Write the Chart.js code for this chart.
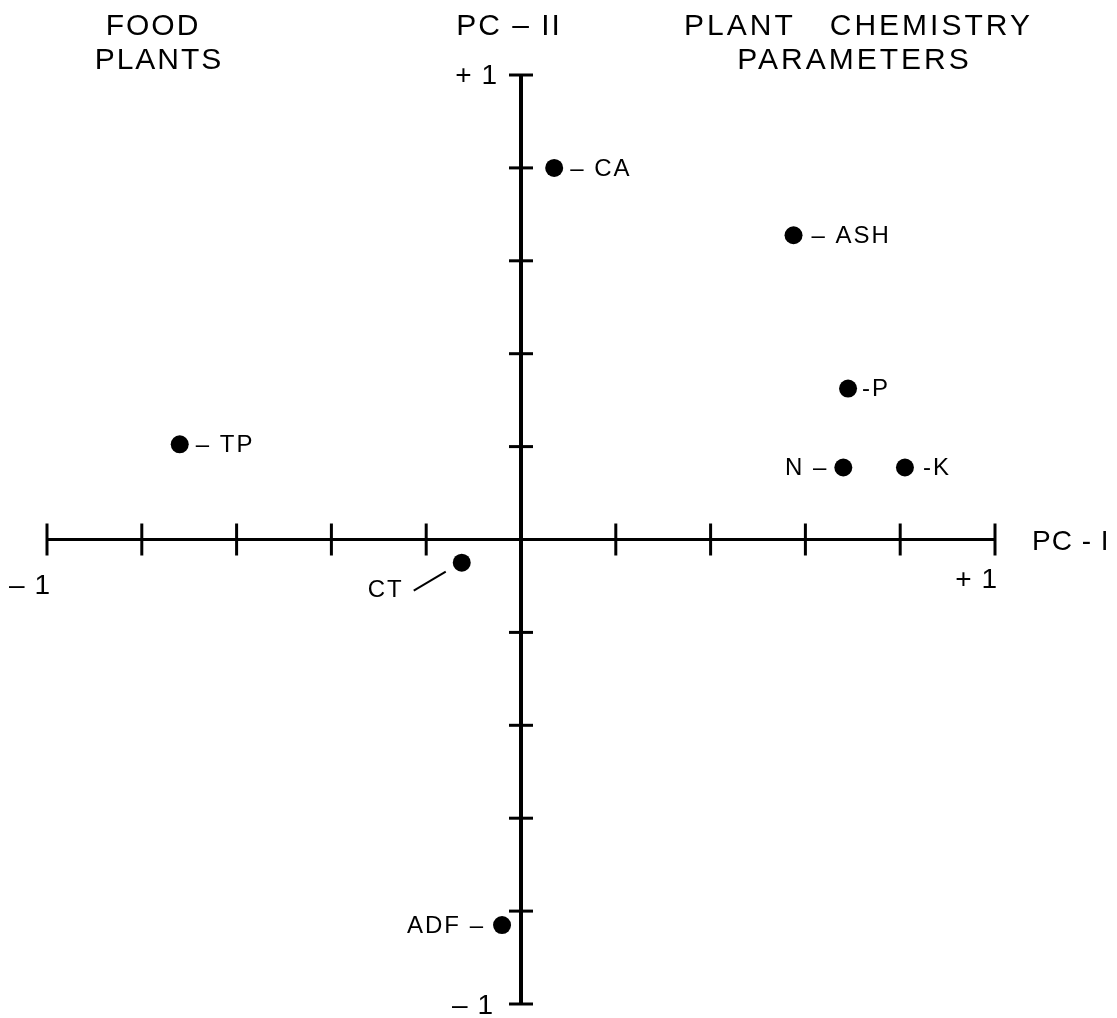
<!DOCTYPE html>
<html>
<head>
<meta charset="utf-8">
<script src="https://cdn.jsdelivr.net/npm/chart.js@4.4.1/dist/chart.umd.min.js"></script>
<style>
    html, body { margin: 0; padding: 0; background: #fff; }
    #wrap { width: 1117px; height: 1018px; position: relative; }
</style>
</head>
<body>
<div id="wrap"><canvas id="pcaChart"></canvas></div>
<script>
// loadings of the plant chemistry parameters on the first two components
const params = ['CA', 'ASH', 'P', 'N', 'K', 'TP', 'CT', 'ADF'];
const pc1 = [0.07, 0.575, 0.69, 0.68, 0.81, -0.72, -0.125, -0.04];
const pc2 = [0.80, 0.655, 0.325, 0.155, 0.155, 0.205, -0.05, -0.83];

// axis tick positions and the end labels
const axisTicks = [-1, -0.8, -0.6, -0.4, -0.2, 0.2, 0.4, 0.6, 0.8, 1];
const endLabels = ['\u2013 1', '+ 1'];
const xAxisTitle = 'PC - I';
const yAxisTitle = 'PC \u2013 II';

const FONT = '"Liberation Sans", Arial, sans-serif';
const INK = '#000';

// how each name sits next to its dot
const labelPlace = {
    CA:  { text: '\u2013 CA', side: 'right', dx: 16 },
    ASH: { text: '\u2013 ASH', side: 'right', dx: 18 },
    P:   { text: '-P', side: 'right', dx: 14 },
    N:   { text: 'N \u2013', side: 'left', dx: -17 },
    K:   { text: '-K', side: 'right', dx: 18 },
    TP:  { text: '\u2013 TP', side: 'right', dx: 16 },
    CT:  { text: 'CT', side: 'leader' },
    ADF: { text: 'ADF \u2013', side: 'left', dx: -19 }
};

function drawText(ctx, str, x, y, size, align, spacing) {
    ctx.save();
    ctx.font = `${size}px ${FONT}`;
    ctx.fillStyle = INK;
    ctx.textBaseline = 'middle';
    ctx.letterSpacing = (spacing || 0) + 'px';
    let w = ctx.measureText(str).width - (spacing || 0);
    let sx = x;
    if (align === 'center') sx = x - w / 2;
    else if (align === 'right') sx = x - w;
    ctx.textAlign = 'left';
    ctx.fillText(str, sx, y);
    ctx.restore();
}

const crossAxes = {
    id: 'crossAxes',
    beforeDatasetsDraw(chart) {
        const { ctx, scales: { x, y } } = chart;
        const x0 = x.getPixelForValue(0);
        const y0 = y.getPixelForValue(0);
        ctx.save();
        ctx.strokeStyle = INK;
        ctx.lineCap = 'butt';

        // horizontal axis (PC-I)
        ctx.lineWidth = 3;
        ctx.beginPath();
        ctx.moveTo(x.getPixelForValue(-1), y0);
        ctx.lineTo(x.getPixelForValue(1), y0);
        ctx.stroke();
        axisTicks.forEach(v => {
            const px = x.getPixelForValue(v);
            ctx.beginPath();
            ctx.moveTo(px, y0 - 16);
            ctx.lineTo(px, y0 + 16);
            ctx.stroke();
        });

        // vertical axis (PC-II)
        ctx.lineWidth = 4;
        ctx.beginPath();
        ctx.moveTo(x0, y.getPixelForValue(1));
        ctx.lineTo(x0, y.getPixelForValue(-1));
        ctx.stroke();
        ctx.lineWidth = 3;
        axisTicks.forEach(v => {
            const py = y.getPixelForValue(v);
            ctx.beginPath();
            ctx.moveTo(x0 - 12, py);
            ctx.lineTo(x0 + 12, py);
            ctx.stroke();
        });
        ctx.restore();

        // end labels
        drawText(ctx, endLabels[0], x.getPixelForValue(-1) + 3, y0 + 47, 28, 'right', 1);
        drawText(ctx, endLabels[1], x.getPixelForValue(1) + 2, y0 + 41, 28, 'right', 1);
        drawText(ctx, endLabels[1], x0 - 24, y.getPixelForValue(1) + 1, 28, 'right', 1);
        drawText(ctx, endLabels[0], x0 - 28, y.getPixelForValue(-1) + 2, 28, 'right', 1);
        drawText(ctx, xAxisTitle, x.getPixelForValue(1) + 37, y0 + 3, 28, 'left', 1);

        // headings across the top
        drawText(ctx, 'FOOD', 152, 27, 30, 'center', 2);
        drawText(ctx, 'PLANTS', 158, 61, 30, 'center', 2);
        drawText(ctx, yAxisTitle, 508, 27, 30, 'center', 2);
        drawText(ctx, 'PLANT   CHEMISTRY', 857, 27, 30, 'center', 3);
        drawText(ctx, 'PARAMETERS', 853, 61, 30, 'center', 3);
    },
    afterDatasetsDraw(chart) {
        const { ctx } = chart;
        const meta = chart.getDatasetMeta(0);
        meta.data.forEach((pt, i) => {
            const place = labelPlace[params[i]];
            if (place.side === 'leader') {
                drawText(ctx, place.text, pt.x - 77, pt.y + 28, 24, 'center', 2);
                ctx.save();
                ctx.strokeStyle = INK;
                ctx.lineWidth = 2;
                ctx.beginPath();
                ctx.moveTo(pt.x - 48, pt.y + 28);
                ctx.lineTo(pt.x - 16, pt.y + 9);
                ctx.stroke();
                ctx.restore();
            } else {
                drawText(ctx, place.text, pt.x + place.dx, pt.y + 1, 24, place.side === 'left' ? 'right' : 'left', 2);
            }
        });
    }
};

const ctx = document.getElementById('pcaChart').getContext('2d');
new Chart(ctx, {
    type: 'scatter',
    data: {
        datasets: [{
            label: 'Plant chemistry',
            data: params.map((p, i) => ({ x: pc1[i], y: pc2[i] })),
            backgroundColor: INK,
            borderWidth: 0,
            pointRadius: 9,
            clip: false
        }]
    },
    options: {
        responsive: true,
        maintainAspectRatio: false,
        animation: false,
        events: [],
        layout: { padding: { left: 47, right: 122, top: 75, bottom: 14 } },
        plugins: {
            legend: { display: false },
            tooltip: { enabled: false }
        },
        scales: {
            x: { type: 'linear', min: -1, max: 1, display: false },
            y: { type: 'linear', min: -1, max: 1, display: false }
        }
    },
    plugins: [crossAxes]
});
</script>
</body>
</html>
